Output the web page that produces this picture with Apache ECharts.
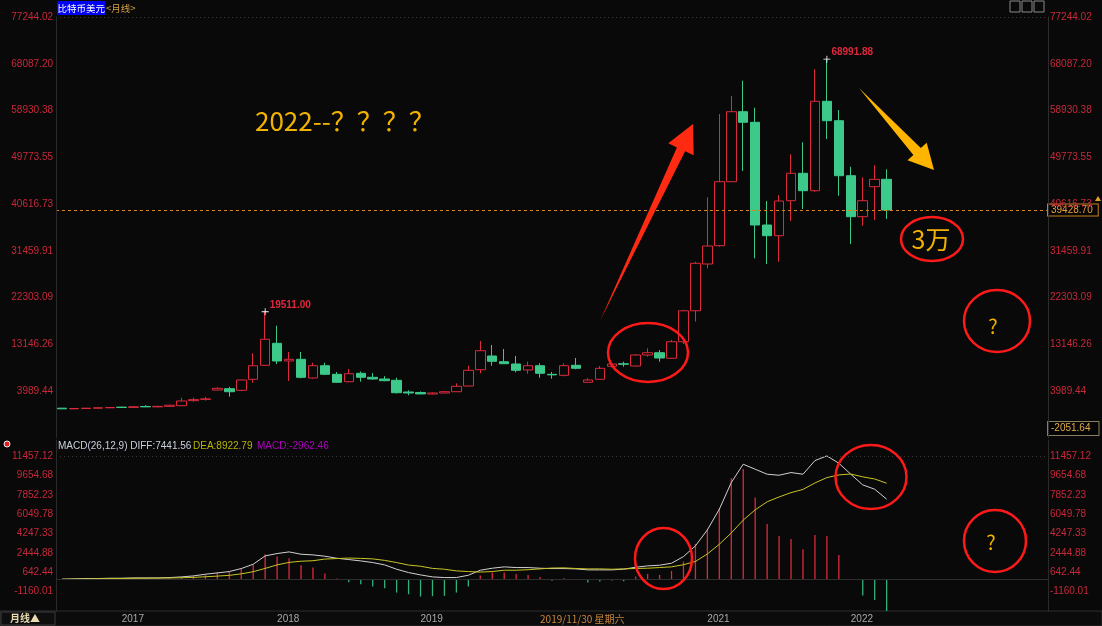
<!DOCTYPE html>
<html><head><meta charset="utf-8">
<script src="https://cdn.jsdelivr.net/npm/echarts@6/dist/echarts.min.js"></script>
<style>html,body{margin:0;padding:0;background:#090909;}#c{width:1102px;height:626px;}</style>
</head><body><div id="c"></div>
<script>
// ---------- data ----------
const months = ['2016-07','2016-08','2016-09','2016-10','2016-11','2016-12',
'2017-01','2017-02','2017-03','2017-04','2017-05','2017-06','2017-07','2017-08','2017-09','2017-10','2017-11','2017-12',
'2018-01','2018-02','2018-03','2018-04','2018-05','2018-06','2018-07','2018-08','2018-09','2018-10','2018-11','2018-12',
'2019-01','2019-02','2019-03','2019-04','2019-05','2019-06','2019-07','2019-08','2019-09','2019-10','2019-11','2019-12',
'2020-01','2020-02','2020-03','2020-04','2020-05','2020-06','2020-07','2020-08','2020-09','2020-10','2020-11','2020-12',
'2021-01','2021-02','2021-03','2021-04','2021-05','2021-06','2021-07','2021-08','2021-09','2021-10','2021-11','2021-12',
'2022-01','2022-02','2022-03','2022-04','2022-05','2022-06','2022-07','2022-08','2022-09','2022-10','2022-11','2022-12',
'2023-01','2023-02','2023-03','2023-04','2023-05'];

const opens = [620,500,560,620,700,830,780,960,880,980,1110,2100,2350,4185,4444,4122,6281,9022,
13330,9866,10199,6536,8943,7259,5810,7456,6673,6340,6085,3795,
3700,3400,3600,3850,4967,8160,10845,9727,9277,8100,8943,7250,
7064,9022,5693,6281,8825,9320,8885,11040,11490,10394,13645,19700,
28864,32449,44984,58695,56619,36503,34407,41263,46630,43221,60732,56932,
46159,38129,44005,45454];
const closes = [500,560,620,700,760,760,900,880,980,1200,2031,2300,2450,4518,3850,6144,8943,14116,
9866,10199,6673,8943,7259,5692,7377,6673,6340,6007,3658,3600,
3420,3600,3850,4908,8042,11881,9807,9335,8042,8943,7456,7150,
8943,8434,6144,8434,9277,9230,11040,11490,10453,13645,19700,29001,
32390,44984,58695,56619,36503,34407,41204,46630,43221,60732,56932,46159,
38129,41263,45454,39428.70];
const highs = [680,640,660,720,780,900,1000,1200,1100,1300,2676,2700,2800,4700,4800,6200,11372,19511,
16779,11628,11628,9532,9532,7700,8297,7800,7500,6900,6600,4126,
3900,3750,4000,5497,8943,13782,12999,12215,10845,9727,9414,7710,
9414,10453,6477,8885,9500,9727,11237,12352,12019,13978,19900,29300,
41929,58244,61770,64767,59479,41204,42379,50351,52701,67000,68991.88,59028,
47922,45846,48197,47413];
const lows = [460,480,540,600,680,720,700,850,850,950,1100,1900,2100,4100,2872,3950,5615,8950,
9277,5947,6477,6400,7100,5600,5700,5810,6200,5900,3500,3149,
3350,3300,3550,3800,4900,7456,8943,9300,7652,7377,6595,6398,
6866,8240,5650,6200,8600,8748,8800,10708,9727,10300,13200,17600,
28022,32253,44900,47080,29981,28864,29315,37287,39637,43000,53348,42242,
32782,36366,37482,37678];

const diffs = [0,31,62,62,93,93,124,124,124,155,
217,310,465,589,713,992,1395,2169,2386,2541,
2324,2262,2138,1952,1828,1704,1550,1333,930,620,
403,217,155,155,372,837,1023,1147,1085,1085,1023,
990,992,961,868,868,868,930,1116,1240,
1302,1488,2107,3099,4587,6508,8987,10692,10227,9762,
9669,9917,9762,11032,11466,10785,9762,8770,8367,7441.56];
const deas = [0,15,30,45,60,70,85,95,105,115,
140,170,230,290,360,500,700,1007,1333,1565,
1674,1720,1875,1921,1968,1937,1891,1752,1550,1318,
1209,1007,930,775,713,667,713,837,837,883,960,
1040,1054,1000,961,961,930,961,1000,1023,
1085,1150,1350,1650,2350,3250,4300,5500,6450,7200,
7650,8050,8350,8950,9450,9700,9780,9520,9320,8922.79];
const macdBars = [10,62,93,93,124,124,124,124,124,155,
217,310,403,620,713,992,1395,2324,2107,1952,
1301,1085,527,62,-279,-465,-682,-837,-1240,-1395,
-1612,-1581,-1550,-1240,-682,341,620,620,496,403,217,
-150,93,-62,-310,-217,-124,-186,248,496,
403,775,1642,3285,4649,6601,9390,10258,7593,5144,
4029,3750,2789,4122,4029,2262,-62,-1519,-1921,-2962.46];

const priceTicks = [3989.44,13146.26,22303.09,31459.91,40616.73,49773.55,58930.38,68087.20,77244.02];
const macdTicks = [-1160.01,642.44,2444.88,4247.33,6049.78,7852.23,9654.68,11457.12];
const xTickLabels = {'2016-12':'2017','2018-01':'2018','2019-01':'2019','2019-11':'2019/11/30 星期六','2021-01':'2021','2022-01':'2022'};
const paneBottomLabel = '-2051.64';

// ---------- chart ----------
const NUM = "'Liberation Sans', Arial, sans-serif";
const CJK = "'Noto Sans CJK SC', 'Noto Sans', sans-serif";
const RED = '#dc2a3c', GREEN = '#3cc98a', LBL = '#c8283a';

const pStep = (priceTicks[priceTicks.length-1]-priceTicks[0])/(priceTicks.length-1);
const pMin = priceTicks[0]-pStep, pMax = priceTicks[priceTicks.length-1];
const mStep = (macdTicks[macdTicks.length-1]-macdTicks[0])/(macdTicks.length-1);
const mMin = macdTicks[0]-mStep, mMax = macdTicks[macdTicks.length-1]+mStep*0.825;

function pick(v, list){ for (const t of list){ if (Math.abs(v-t) < 0.5) return t.toFixed(2);} return ''; }

const candleData = opens.map((o,i)=>[o, closes[i], lows[i], highs[i]]);
const lastPrice = closes[closes.length-1];
const peak1 = highs.indexOf(Math.max(...highs.slice(0,40)));
const peak2 = highs.indexOf(Math.max(...highs));

function yAx(grid, pos, min, max, step, list, lineType){
  return {type:'value', gridIndex:grid, position:pos, min:min, max:max, interval:step, z:10,
    axisLine:{show:true, lineStyle:{color: pos==='left'?'#2a2a2a':'#333', type: lineType}},
    axisTick:{show:false}, splitLine:{show:false},
    axisLabel:{show:true, margin: pos==='left'?3:2, color:LBL, fontSize:10, fontFamily:NUM, padding:[0,0,2,0],
      showMinLabel:true, showMaxLabel:true, formatter:v=>pick(v,list)}};
}

const chart = echarts.init(document.getElementById('c'), null, {width:1102, height:626});
const option = {
  animation:false,
  backgroundColor:'#090909',
  textStyle:{fontFamily:NUM},
  grid:[
    {left:56, right:54, top:17, height:420.75, containLabel:false, outerBoundsMode:'none'},
    {left:56, right:54, top:440, height:171.09, containLabel:false, outerBoundsMode:'none'}
  ],
  xAxis:[
    {type:'category', gridIndex:0, data:months, boundaryGap:true, show:false},
    {type:'category', gridIndex:1, data:months, boundaryGap:true, z:10,
     axisLine:{show:true, lineStyle:{color:'#2e2e2e'}}, axisTick:{show:false}, splitLine:{show:false},
     axisLabel:{show:true, interval:0, align:'left', margin:3, fontSize:10, color:'#a8a8a8', fontFamily:NUM,
       formatter:(v)=>{ const t = xTickLabels[v]; if(!t) return ''; return v==='2019-11' ? '{hl|'+t+'}' : t; },
       rich:{hl:{color:'#c8863e', fontSize:10, fontFamily:CJK}}}}
  ],
  yAxis:[
    yAx(0,'left',pMin,pMax,pStep,priceTicks,'solid'),
    yAx(0,'right',pMin,pMax,pStep,priceTicks,'dotted'),
    yAx(1,'left',mMin,mMax,mStep,macdTicks,'solid'),
    yAx(1,'right',mMin,mMax,mStep,macdTicks,'dotted')
  ],
  series:[
    {type:'candlestick', xAxisIndex:0, yAxisIndex:0, data:candleData, barWidth:10,
     itemStyle:{color:'#090909', color0:GREEN, borderColor:RED, borderColor0:GREEN, borderWidth:1},
     markPoint:{symbol:'path://M0,4.4H10V5.6H0Z M4.4,0H5.6V10H4.4Z', symbolSize:7, silent:true,
       itemStyle:{color:'#ffffff'},
       label:{show:true, position:[8,-8], color:'#e0283c', fontSize:10, fontWeight:'bold', fontFamily:NUM,
         formatter:p=>Number(p.value).toFixed(2)},
       data:[{coord:[months[peak1], highs[peak1]], value:highs[peak1]},
             {coord:[months[peak2], highs[peak2]], value:highs[peak2]}]},
     markLine:{silent:true, symbol:['none','none'],
       data:[
        {yAxis:lastPrice, lineStyle:{color:'#d8841e', type:[3,3], width:1},
         label:{show:true, position:'end', distance:0, formatter:lastPrice.toFixed(2), color:'#e8a040',
           backgroundColor:'#050505', borderColor:'#c88020', borderWidth:1, padding:[1,5,0,3], height:10, lineHeight:10, fontSize:10, fontFamily:NUM}},
        {yAxis:pMax, lineStyle:{color:'#3a3a3a', type:[1,3], width:1}, label:{show:false}}
       ]}},
    {type:'bar', xAxisIndex:1, yAxisIndex:2, data:macdBars, barWidth:1.3,
     itemStyle:{color:p=>p.value>=0?RED:'#34b07a'}},
    {type:'line', xAxisIndex:1, yAxisIndex:2, data:diffs, symbol:'none', lineStyle:{color:'#d0d0d0', width:1},
     markLine:{silent:true, symbol:['none','none'], label:{show:false},
       data:[{yAxis:macdTicks[macdTicks.length-1], lineStyle:{color:'#3a3a3a', type:[1,3], width:1}}]}},
    {type:'line', xAxisIndex:1, yAxisIndex:2, data:deas, symbol:'none', lineStyle:{color:'#c8c424', width:1}}
  ],
  graphic:[
    {type:'rect', z:0, shape:{x:0,y:611,width:1102,height:15}, style:{fill:'#0b0b0b', stroke:'#2e2e2e', lineWidth:1}},
    {type:'rect', z:1, shape:{x:1,y:612,width:54,height:13}, style:{fill:'#0e0e0e', stroke:'#3c3c3c', lineWidth:1}},
    {type:'text', z:2, x:10, y:618.5, style:{text:'月线▲', fill:'#e8dcb0', font:'bold 10px '+CJK, textVerticalAlign:'middle', verticalAlign:'middle'}},
    {type:'rect', z:5, shape:{x:57,y:1,width:48,height:14}, style:{fill:'#0000f4'}},
    {type:'text', z:6, x:57.5, y:8, style:{text:'比特币美元', fill:'#ffffff', font:'9.5px '+CJK, textVerticalAlign:'middle', verticalAlign:'middle'}},
    {type:'text', z:6, x:106, y:8, style:{text:'<月线>', fill:'#d6a444', font:'9.5px '+CJK, textVerticalAlign:'middle', verticalAlign:'middle'}},
    {type:'rect', z:5, shape:{x:1010,y:1,width:10,height:11}, style:{fill:'none', stroke:'#8a8a8a', lineWidth:1}},
    {type:'rect', z:5, shape:{x:1022,y:1,width:10,height:11}, style:{fill:'none', stroke:'#8a8a8a', lineWidth:1}},
    {type:'rect', z:5, shape:{x:1034,y:1,width:10,height:11}, style:{fill:'none', stroke:'#8a8a8a', lineWidth:1}},
    {type:'text', z:6, x:1048, y:428.5, style:{text:paneBottomLabel, fill:'#e0a848', font:'10px '+NUM, textVerticalAlign:'middle', verticalAlign:'middle',
      backgroundColor:'#050505', borderColor:'#8a8060', borderWidth:1, padding:[2,8,1,3]}},
    {type:'polygon', z:6, shape:{points:[[1095,201],[1101,201],[1098,196]]}, style:{fill:'#e0a030'}},
    {type:'circle', z:6, shape:{cx:7,cy:444,r:3}, style:{fill:'#e02020', stroke:'#f0f0f0', lineWidth:1}},
    {type:'text', z:6, x:58, y:446, style:{text:'MACD(26,12,9) DIFF:'+diffs[diffs.length-1].toFixed(2), fill:'#c8d0dc', font:'10px '+NUM, textVerticalAlign:'middle', verticalAlign:'middle'}},
    {type:'text', z:6, x:193, y:446, style:{text:'DEA:'+deas[deas.length-1].toFixed(2), fill:'#b8b400', font:'10px '+NUM, textVerticalAlign:'middle', verticalAlign:'middle'}},
    {type:'text', z:6, x:257, y:446, style:{text:'MACD:'+macdBars[macdBars.length-1].toFixed(2), fill:'#b000c0', font:'10px '+NUM, textVerticalAlign:'middle', verticalAlign:'middle'}},
    {type:'text', z:100, x:255, y:121, style:{text:'2022--？？？？', fill:'#f2b200', font:'26px '+CJK, textVerticalAlign:'middle', verticalAlign:'middle'}},
    {type:'polygon', z:100, shape:{points:[[600,321],[676.9,147.4],[668.3,143.3],[693,124],[693.7,155.3],[685.1,151.2]]}, style:{fill:'#ff2a12'}},
    {type:'polygon', z:100, shape:{points:[[859,88],[920.8,148.1],[926.7,142.7],[934,170],[907.5,160.3],[913.4,154.9]]}, style:{fill:'#ffb400'}},
    {type:'ellipse', z:100, shape:{cx:648,cy:352.5,rx:40,ry:29.5}, style:{fill:'none', stroke:'#ff1a1a', lineWidth:2.5}},
    {type:'ellipse', z:100, shape:{cx:932,cy:239,rx:31,ry:22}, style:{fill:'none', stroke:'#ff1a1a', lineWidth:2.5}},
    {type:'text', z:100, x:931, y:239, style:{text:'3万', fill:'#f2b200', font:'25px '+CJK, textAlign:'center', align:'center', textVerticalAlign:'middle', verticalAlign:'middle'}},
    {type:'ellipse', z:100, shape:{cx:997,cy:321,rx:33,ry:31}, style:{fill:'none', stroke:'#ff1a1a', lineWidth:2.5}},
    {type:'text', z:100, x:993, y:326, style:{text:'?', fill:'#f2b200', font:'20px '+CJK, textAlign:'center', align:'center', textVerticalAlign:'middle', verticalAlign:'middle'}},
    {type:'ellipse', z:100, shape:{cx:663.5,cy:558.5,rx:28.5,ry:30.5}, style:{fill:'none', stroke:'#ff1a1a', lineWidth:2.5}},
    {type:'ellipse', z:100, shape:{cx:871,cy:477,rx:35.5,ry:32}, style:{fill:'none', stroke:'#ff1a1a', lineWidth:2.5}},
    {type:'ellipse', z:100, shape:{cx:995,cy:541,rx:31,ry:31}, style:{fill:'none', stroke:'#ff1a1a', lineWidth:2.5}},
    {type:'text', z:100, x:991, y:542, style:{text:'?', fill:'#f2b200', font:'20px '+CJK, textAlign:'center', align:'center', textVerticalAlign:'middle', verticalAlign:'middle'}}
  ]
};
chart.setOption(option);
</script>
</body></html>
